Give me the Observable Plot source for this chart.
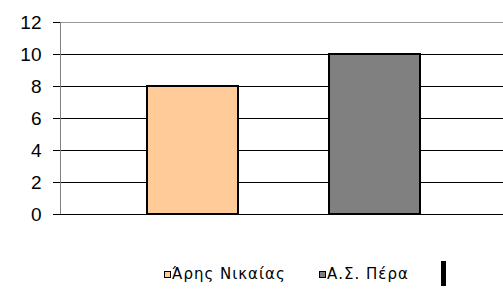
<!DOCTYPE html>
<html>
<head>
<meta charset="utf-8">
<script src="https://cdn.jsdelivr.net/npm/d3@7"></script>
<script src="https://cdn.jsdelivr.net/npm/@observablehq/plot@0.6"></script>
<style>
  html, body { margin: 0; padding: 0; background: #fff; }
  #wrap { position: relative; width: 503px; height: 291px; overflow: hidden; font-family: "Liberation Sans", Arial, sans-serif; }
  #legend { position: absolute; left: 0; top: 250px; width: 503px; height: 41px; }
  .item { position: absolute; top: 15px; font-family: "DejaVu Sans", sans-serif; font-size: 15px; letter-spacing: 1px; line-height: 18px; color: #000; display: flex; align-items: center; white-space: nowrap; }
  .sw { display: inline-block; flex: 0 0 auto; box-sizing: content-box; width: 5px; height: 5px; border: 1px solid #000; margin-right: 1px; }
  #mark { position: absolute; left: 441px; top: 11px; width: 5px; height: 25px; background: #000; }
</style>
</head>
<body>
<div id="wrap"><div id="chart"></div><div id="legend"></div></div>
<script>
const teams = ["Άρης Νικαίας", "Α.Σ. Πέρα"];
const values = [8, 10];
const colors = ["#FFCC99", "#808080"];
const yTicks = [0, 2, 4, 6, 8, 10, 12];

const data = teams.map((t, i) => ({team: t, value: values[i], color: colors[i]}));

const chart = Plot.plot({
  width: 503,
  height: 250,
  marginTop: 22,
  marginBottom: 36,
  marginLeft: 60,
  marginRight: 0,
  style: {fontFamily: "Liberation Sans, Arial, sans-serif", fontSize: "19px", color: "#000", background: "#fff"},
  x: {domain: teams, range: [100.5, 465.5], paddingInner: 0.5, paddingOuter: 0.25, axis: null},
  y: {domain: [0, 12], label: null},
  marks: [
    Plot.ruleY(yTicks.filter(d => d > 0 && d < 12), {stroke: "#000", strokeWidth: 1}),
    Plot.ruleY([12], {stroke: "#999", strokeWidth: 1}),
    Plot.axisY({ticks: yTicks, tickSize: 7, tickPadding: 12, stroke: "#000", fill: "#000", fontSize: 19, label: null}),
    Plot.barY(data, {x: "team", y: "value", fill: "color", stroke: "#000", strokeWidth: 2}),
    Plot.frame({anchor: "left", stroke: "#808080", strokeWidth: 1}),
    Plot.ruleY([0], {stroke: "#000", strokeWidth: 1})
  ]
});
document.getElementById("chart").appendChild(chart);

const legend = document.getElementById("legend");
const lefts = [164, 319];
teams.forEach((t, i) => {
  const it = document.createElement("div");
  it.className = "item";
  it.style.left = lefts[i] + "px";
  const sw = document.createElement("span");
  sw.className = "sw";
  sw.style.background = colors[i];
  it.appendChild(sw);
  it.appendChild(document.createTextNode(t));
  legend.appendChild(it);
});
const mk = document.createElement("div");
mk.id = "mark";
legend.appendChild(mk);
</script>
</body>
</html>
